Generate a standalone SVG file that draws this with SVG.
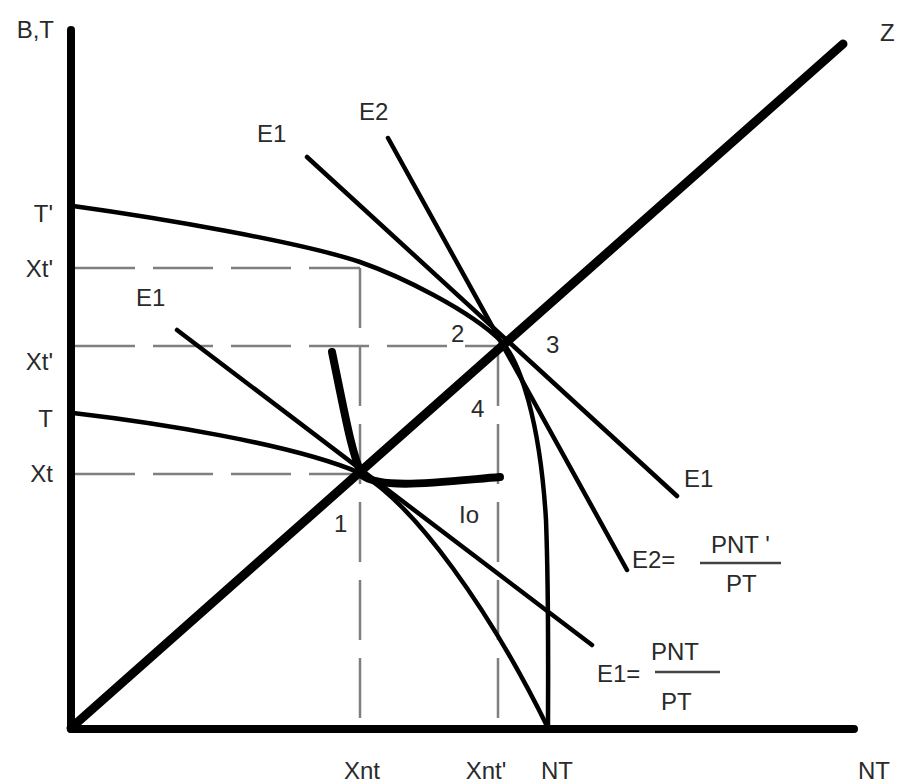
<svg xmlns="http://www.w3.org/2000/svg" width="899" height="783" viewBox="0 0 899 783">
<style>
.ax{stroke:#000;stroke-width:8;stroke-linecap:round;fill:none}
.cv{stroke:#000;stroke-width:4.5;fill:none;stroke-linecap:round}
.ds{stroke:#7f7f7f;stroke-width:2.5;fill:none;stroke-dasharray:60 18}
.fr{stroke:#444;stroke-width:2.5}
text{font-family:"Liberation Sans",Arial,sans-serif;font-size:24px;fill:#2a2a2a}
</style>
<rect width="899" height="783" fill="#fff"/>
<g id="guides">
<line class="ds" x1="75" y1="268" x2="360" y2="268"/>
<line class="ds" x1="75" y1="346" x2="500" y2="346"/>
<line class="ds" x1="75" y1="474" x2="360" y2="474"/>
<line class="ds" x1="360" y1="268" x2="360" y2="726"/>
<line class="ds" x1="498" y1="346" x2="498" y2="726"/>
</g>
<g id="axes">
<line class="ax" x1="71" y1="30" x2="71" y2="729"/>
<line class="ax" x1="71" y1="729" x2="854" y2="729"/>
</g>
<g id="connectors">
<path id="ppf-outer" class="cv" d="M73,206 C160,218 300,242 360,262 C400,276 470,310 502,342 C520,362 540,420 546,520 C549,600 548,680 548,728"/>
<path id="ppf-inner" class="cv" d="M73,413 C150,422 290,443 360,473 C415,505 490,610 548,728"/>
<line id="e1-upper" class="cv" x1="307" y1="157" x2="677" y2="496"/>
<line id="e2" class="cv" x1="388" y1="138" x2="627" y2="570"/>
<line id="e1-lower" class="cv" x1="177" y1="330" x2="592" y2="645"/>
<path id="io" d="M332,352 C345,415 352,455 362,475 C380,490 440,482 500,477" fill="none" stroke="#000" stroke-width="8" stroke-linecap="round"/>
<line id="z" x1="71" y1="728" x2="843" y2="44" stroke="#000" stroke-width="9" stroke-linecap="round"/>
</g>
<g id="labels">
<text x="54" y="38" text-anchor="end">B,T</text>
<text x="880" y="41">Z</text>
<text x="53" y="222" text-anchor="end">T'</text>
<text x="53" y="277" text-anchor="end">Xt'</text>
<text x="53" y="370" text-anchor="end">Xt'</text>
<text x="53" y="427" text-anchor="end">T</text>
<text x="53" y="482" text-anchor="end">Xt</text>
<text x="257" y="142">E1</text>
<text x="359" y="120">E2</text>
<text x="136" y="306">E1</text>
<text x="451" y="342">2</text>
<text x="546" y="353">3</text>
<text x="471" y="417">4</text>
<text x="334" y="532">1</text>
<text x="459" y="523">Io</text>
<text x="684" y="487">E1</text>
<text x="632" y="568">E2=</text>
<text x="711" y="553">PNT '</text>
<line class="fr" x1="700" y1="563" x2="781" y2="563"/>
<text x="726" y="592">PT</text>
<text x="597" y="682">E1=</text>
<text x="651" y="660">PNT</text>
<line class="fr" x1="655" y1="672" x2="720" y2="672"/>
<text x="661" y="710">PT</text>
<text x="362" y="779" text-anchor="middle">Xnt</text>
<text x="486" y="779" text-anchor="middle">Xnt'</text>
<text x="557" y="779" text-anchor="middle">NT</text>
<text x="874" y="779" text-anchor="middle">NT</text>
</g>
</svg>
